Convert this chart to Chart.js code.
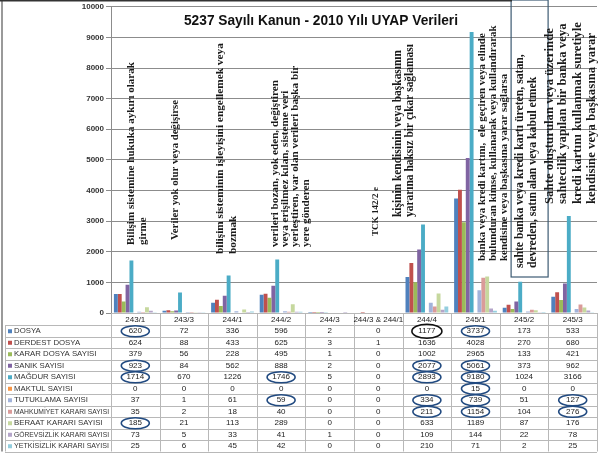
<!DOCTYPE html>
<html>
<head>
<meta charset="utf-8">
<script src="https://cdn.jsdelivr.net/npm/chart.js@4.4.0/dist/chart.umd.min.js"></script>
<style>
html, body { margin: 0; padding: 0; background: #fff; }
#wrap { width: 605px; height: 454px; position: relative; }
</style>
</head>
<body>
<div id="wrap"><canvas id="chart"></canvas></div>
<script>
const categories = ['243/1', '243/3', '244/1', '244/2', '244/3', '244/3 & 244/1', '244/4', '245/1', '245/2', '245/3'];

const seriesNames = [
    'DOSYA', 'DERDEST DOSYA', 'KARAR DOSYA SAYISI', 'SANIK SAYISI', 'MAĞDUR SAYISI',
    'MAKTUL SAYISI', 'TUTUKLAMA SAYISI', 'MAHKUMİYET KARARI SAYISI', 'BERAAT KARARI SAYISI',
    'GÖREVSİZLİK KARARI SAYISI', 'YETKİSİZLİK KARARI SAYISI'
];

const dosya       = [620, 72, 336, 596, 2, 0, 1177, 3737, 173, 533];
const derdest     = [624, 88, 433, 625, 3, 1, 1636, 4028, 270, 680];
const karar       = [379, 56, 228, 495, 1, 0, 1002, 2965, 133, 421];
const sanik       = [923, 84, 562, 888, 2, 0, 2077, 5061, 373, 962];
const magdur      = [1714, 670, 1226, 1746, 5, 0, 2893, 9180, 1024, 3166];
const maktul      = [0, 0, 0, 0, 0, 0, 0, 15, 0, 0];
const tutuklama   = [37, 1, 61, 59, 0, 0, 334, 739, 51, 127];
const mahkumiyet  = [35, 2, 18, 40, 0, 0, 211, 1154, 104, 276];
const beraat      = [185, 21, 113, 289, 0, 0, 633, 1189, 87, 176];
const gorevsizlik = [73, 5, 33, 41, 1, 0, 109, 144, 22, 78];
const yetkisizlik = [25, 6, 45, 42, 0, 0, 210, 71, 2, 25];

const yMax = 10000;
const yStep = 1000;

const seriesValues = [dosya, derdest, karar, sanik, magdur, maktul, tutuklama, mahkumiyet, beraat, gorevsizlik, yetkisizlik];

const seriesColors = [
    '#4F81BD', '#C0504D', '#9BBB59', '#8064A2', '#4BACC6', '#F79646',
    '#A2B3DA', '#DA9B99', '#C6D89E', '#B4A5C9', '#94CEDE'
];

// cells marked with a hand-drawn ellipse: [series, category, colour]
const circled = [
    [0, 0], [3, 0], [4, 0], [8, 0],
    [4, 3], [6, 3],
    [0, 6, '#111'], [3, 6], [4, 6], [6, 6], [7, 6],
    [0, 7], [3, 7], [4, 7], [5, 7], [6, 7], [7, 7],
    [6, 9], [7, 9]
];

// vertical notes above the groups
const notes = [
    { cat: 0, dx: [-4, 8], bottom: 245, len: 183, lines: ['Bilişim sistemine hukuka aykırı olarak', 'girme'] },
    { cat: 1, dx: [-9], bottom: 240, len: 140, lines: ['Veriler yok olur veya değişirse'] },
    { cat: 2, dx: [-12, 1], bottom: 254, len: 211, lines: ['bilişim sisteminin işleyişini engellemek veya', 'bozmak'] },
    { cat: 3, dx: [-6, 4, 14, 25], bottom: 247, len: 167, lines: ['verileri bozan, yok eden, değiştiren', 'veya erişilmez kılan, sisteme veri', 'yerleştiren, var olan verileri başka bir', 'yere gönderen'] },
    { cat: 5, dx: [-3], bottom: 236, len: 49, lines: ['TCK 142/2 e'] },
    { cat: 6, dx: [-29, -17], bottom: 217, len: 167, lines: ['kişinin kendisinin veya başkasının', 'yararına haksız bir çıkar sağlaması'] },
    { cat: 7, dx: [6.5, 17.5, 28.5], bottom: 261, len: 228, lines: ['banka veya kredi kartını,  ele geçiren veya elinde', 'bulunduran kimse, kullanarak veya kullandırarak', 'kendisine veya başkasına yarar sağlarsa'] },
    { cat: 8, dx: [-4, 8.5], bottom: 268, len: 214, lines: ['sahte banka veya kredi kartı üreten, satan,', 'devreden, satın alan veya kabul etmek'], box: [-13, 24, 0, 277] },
    { cat: 9, dx: [-23, -10, 5, 19], bottom: 204, len: 176, lines: ['Sahte oluşturulan veya üzerinde', 'sahtecilik yapılan bir banka veya', 'kredi kartını kullanmak suretiyle', 'kendisine veya başkasına yarar'] }
];

const tableTop = 313;
const headerH = 12;
const rowH = 11.5;
const labelLeft = 5;
const sans = '"Liberation Sans", Arial, sans-serif';
const serif = '"Liberation Serif", "DejaVu Serif", serif';

function fitFont(ctx, weight, family, text, width) {
    ctx.font = weight + ' 20px ' + family;
    const size = 20 * width / ctx.measureText(text).width;
    ctx.font = weight + ' ' + size.toFixed(2) + 'px ' + family;
}

const extras = {
    id: 'extras',
    afterDraw(chart) {
        const ctx = chart.ctx;
        const x = chart.scales.x;
        const area = chart.chartArea;
        const colW = area.width / categories.length;

        ctx.save();

        // title
        const title = '5237 Sayılı Kanun - 2010 Yılı UYAP Verileri';
        fitFont(ctx, 'bold', sans, title, 274);
        ctx.fillStyle = '#111';
        ctx.textAlign = 'center';
        ctx.textBaseline = 'middle';
        ctx.fillText(title, 321, 21);

        // notes
        notes.forEach(n => {
            const cx = x.getPixelForValue(n.cat);
            fitFont(ctx, 'bold', serif, n.lines[0], n.len);
            ctx.fillStyle = '#1a1a1a';
            ctx.textAlign = 'left';
            ctx.textBaseline = 'middle';
            n.lines.forEach((line, i) => {
                ctx.save();
                ctx.translate(cx + n.dx[i], n.bottom);
                ctx.rotate(-Math.PI / 2);
                ctx.fillText(line, 0, 0);
                ctx.restore();
            });
            if (n.box) {
                ctx.strokeStyle = '#3d5a73';
                ctx.lineWidth = 1.2;
                ctx.strokeRect(cx + n.box[0], n.box[2], n.box[1] - n.box[0], n.box[3] - n.box[2]);
            }
        });

        // data table
        const tableBottom = tableTop + headerH + rowH * seriesNames.length;
        ctx.strokeStyle = '#b8b8b8';
        ctx.lineWidth = 1;
        ctx.beginPath();
        for (let k = 0; k <= categories.length; k++) {
            const lx = Math.round(area.left + colW * k) + 0.5;
            ctx.moveTo(lx, tableTop);
            ctx.lineTo(lx, tableBottom);
        }
        ctx.moveTo(labelLeft + 0.5, tableTop + headerH);
        ctx.lineTo(labelLeft + 0.5, tableBottom);
        for (let r = 0; r <= seriesNames.length; r++) {
            const ly = Math.round(tableTop + headerH + rowH * r) + 0.5;
            ctx.moveTo(labelLeft, ly);
            ctx.lineTo(area.right, ly);
        }
        ctx.moveTo(area.left, tableTop + 0.5);
        ctx.lineTo(area.right, tableTop + 0.5);
        ctx.stroke();

        ctx.font = '8px ' + sans;
        ctx.fillStyle = '#222';
        ctx.textAlign = 'center';
        ctx.textBaseline = 'middle';
        categories.forEach((c, i) => {
            ctx.fillText(c, x.getPixelForValue(i), tableTop + headerH / 2 + 0.5);
        });

        seriesNames.forEach((name, r) => {
            const cy = tableTop + headerH + rowH * (r + 0.5) + 0.5;
            ctx.fillStyle = seriesColors[r];
            ctx.fillRect(labelLeft + 3, cy - 2, 4, 4);
            ctx.fillStyle = '#333';
            ctx.textAlign = 'left';
            ctx.font = '7.8px ' + sans;
            ctx.fillText(name, labelLeft + 9, cy, area.left - labelLeft - 11);
            ctx.textAlign = 'center';
            ctx.font = '8px ' + sans;
            ctx.fillStyle = '#222';
            seriesValues[r].forEach((v, i) => {
                ctx.fillText(String(v), x.getPixelForValue(i), cy);
            });
        });

        // ellipses
        circled.forEach(([r, i, col]) => {
            const cy = tableTop + headerH + rowH * (r + 0.5) + 0.5;
            const cx = x.getPixelForValue(i);
            ctx.beginPath();
            ctx.strokeStyle = col || '#214a80';
            ctx.lineWidth = 1.6;
            ctx.ellipse(cx, cy, col ? 15 : 14, col ? 7 : 5.5, 0, 0, Math.PI * 2);
            ctx.stroke();
        });

        // frame
        ctx.strokeStyle = '#9a9a9a';
        ctx.lineWidth = 2;
        ctx.beginPath();
        ctx.moveTo(2, 0);
        ctx.lineTo(2, tableBottom);
        ctx.stroke();
        ctx.strokeStyle = '#333';
        ctx.lineWidth = 1.5;
        ctx.beginPath();
        ctx.moveTo(0, 0.75);
        ctx.lineTo(512, 0.75);
        ctx.stroke();

        ctx.restore();
    }
};

new Chart(document.getElementById('chart'), {
    type: 'bar',
    data: {
        labels: categories,
        datasets: seriesNames.map((name, s) => ({
            label: name,
            data: seriesValues[s],
            backgroundColor: seriesColors[s],
            borderWidth: 0,
            categoryPercentage: 0.88,
            barPercentage: 1.0
        }))
    },
    options: {
        responsive: true,
        maintainAspectRatio: false,
        animation: false,
        layout: {
            padding: { top: 6, right: 8, bottom: 141, left: 0 }
        },
        plugins: {
            legend: { display: false },
            title: { display: false },
            tooltip: { enabled: false }
        },
        scales: {
            x: {
                display: false
            },
            y: {
                min: 0,
                max: yMax,
                ticks: {
                    stepSize: yStep,
                    padding: 2,
                    color: '#333',
                    font: { family: sans, size: 8, weight: 'bold' },
                    callback: v => String(v)
                },
                grid: {
                    color: '#8c8c8c',
                    tickLength: 5
                },
                border: { color: '#8c8c8c' },
                afterFit: axis => { axis.width = 111; }
            }
        }
    },
    plugins: [extras]
});
</script>
</body>
</html>
